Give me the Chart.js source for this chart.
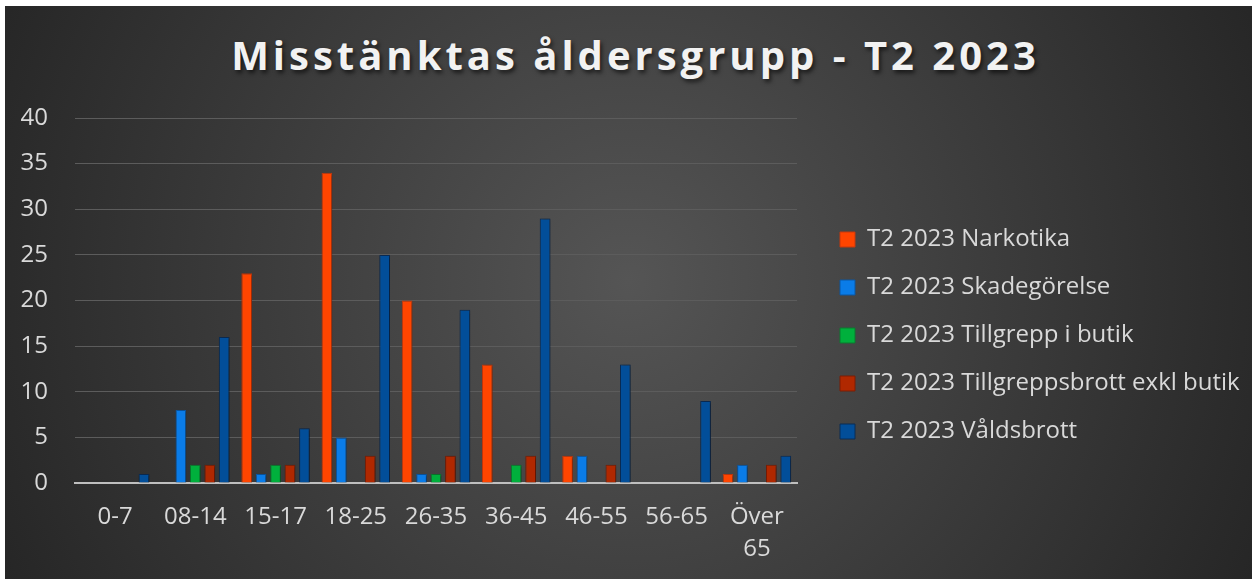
<!DOCTYPE html>
<html lang="sv">
<head>
<meta charset="utf-8">
<script src="https://cdn.jsdelivr.net/npm/chart.js@4"></script>
<style>
  html, body { margin: 0; padding: 0; background: #ffffff; }
  body { width: 1252px; height: 579px; position: relative; overflow: hidden; }
  #panel {
    position: absolute; left: 5px; top: 6px; width: 1247px; height: 573px;
    background: radial-gradient(circle farthest-corner at 50% 48%, #555555 0%, #3b3b3b 55%, #262626 100%);
  }
  #title {
    position: absolute; left: 0; top: 21px; width: 100%; text-align: center;
    box-sizing: border-box; padding-left: 14px;
    font-family: "Open Sans", sans-serif; font-weight: 700; font-size: 40px;
    letter-spacing: 4px; color: #f2f2f2; text-shadow: 2px 3px 4px rgba(0,0,0,0.6);
  }
  #chart { position: absolute; left: 0; top: 0; }
</style>
</head>
<body>
<div id="panel">
  <div id="title">Misstänktas åldersgrupp - T2 2023</div>
  <canvas id="chart" width="1247" height="573"></canvas>
</div>
<script>
// age groups on the x axis
const ageGroups = ['0-7', '08-14', '15-17', '18-25', '26-35', '36-45', '46-55', '56-65', ['Över', '65']];

// suspects per crime category
const narkotika = [0, 0, 23, 34, 20, 13, 3, 0, 1];
const skadegorelse = [0, 8, 1, 5, 1, 0, 3, 0, 2];
const tillgreppButik = [0, 2, 2, 0, 1, 2, 0, 0, 0];
const tillgreppsbrott = [0, 2, 2, 3, 3, 3, 2, 0, 2];
const valdsbrott = [1, 16, 6, 25, 19, 29, 13, 9, 3];

const yTicks = [0, 5, 10, 15, 20, 25, 30, 35, 40];

const fontFamily = '"Open Sans", sans-serif';
const textColor = '#d9d9d9';

// legend geometry: fixed width, nudged away from the plot
const legendWidth = 445;
const legendShiftX = 19;
const legendShiftY = -13;

function series(label, data, fill, border) {
    return {
        label: label,
        data: data,
        backgroundColor: fill,
        borderColor: border,
        borderWidth: 1,
        categoryPercentage: 0.9,
        barPercentage: 0.74
    };
}

// the built-in legend caps its width at a quarter of the canvas, so widen it
const wideLegend = {
    id: 'wideLegend',
    beforeUpdate(chart) {
        const lg = chart.legend;
        if (!lg || lg._wide) return;
        const fit = lg.fit.bind(lg);
        const draw = lg.draw.bind(lg);
        lg.fit = function () {
            fit();
            this.width = legendWidth;
        };
        lg.draw = function () {
            const c = this.ctx;
            c.save();
            c.translate(legendShiftX, legendShiftY);
            draw();
            c.restore();
        };
        lg._wide = true;
    }
};

// soft drop shadow under the bars
const barShadow = {
    id: 'barShadow',
    beforeDatasetsDraw(chart) {
        const c = chart.ctx;
        c.save();
        c.shadowColor = 'rgba(0, 0, 0, 0.45)';
        c.shadowBlur = 3;
        c.shadowOffsetX = 1;
        c.shadowOffsetY = 1;
    },
    afterDatasetsDraw(chart) {
        chart.ctx.restore();
    }
};

const ctx = document.getElementById('chart').getContext('2d');
const chart = new Chart(ctx, {
    type: 'bar',
    data: {
        labels: ageGroups,
        datasets: [
            series('T2 2023 Narkotika', narkotika, '#ff4500', '#c7380c'),
            series('T2 2023 Skadegörelse', skadegorelse, '#0a7ce8', '#0b57a3'),
            series('T2 2023 Tillgrepp i butik', tillgreppButik, '#00b03c', '#0a7a2e'),
            series('T2 2023 Tillgreppsbrott exkl butik', tillgreppsbrott, '#b02800', '#7a1d05'),
            series('T2 2023 Våldsbrott', valdsbrott, '#024e99', '#0b2c55')
        ]
    },
    plugins: [wideLegend, barShadow],
    options: {
        responsive: false,
        animation: false,
        layout: { padding: { top: 112, bottom: 0, left: 0, right: 10 } },
        plugins: {
            title: { display: false },
            tooltip: { enabled: false },
            legend: {
                position: 'right',
                align: 'center',
                labels: {
                    color: textColor,
                    font: { family: fontFamily, size: 24 },
                    boxWidth: 15,
                    boxHeight: 15,
                    padding: 24
                }
            }
        },
        scales: {
            x: {
                grid: { display: false, drawTicks: false },
                border: { color: '#bfbfbf', width: 2 },
                ticks: {
                    color: textColor,
                    font: { family: fontFamily, size: 24, lineHeight: 1.33 },
                    padding: 18,
                    maxRotation: 0,
                    autoSkip: false
                },
                afterFit: scale => { scale.height = 96; }
            },
            y: {
                min: 0,
                max: 40,
                grid: { color: '#5c5c5c', lineWidth: 1, drawTicks: false },
                border: { display: false },
                afterBuildTicks: scale => { scale.ticks = yTicks.map(v => ({ value: v })); },
                ticks: {
                    color: textColor,
                    font: { family: fontFamily, size: 24 },
                    padding: 27
                },
                afterFit: scale => { scale.width = 70; }
            }
        }
    }
});
</script>
</body>
</html>
